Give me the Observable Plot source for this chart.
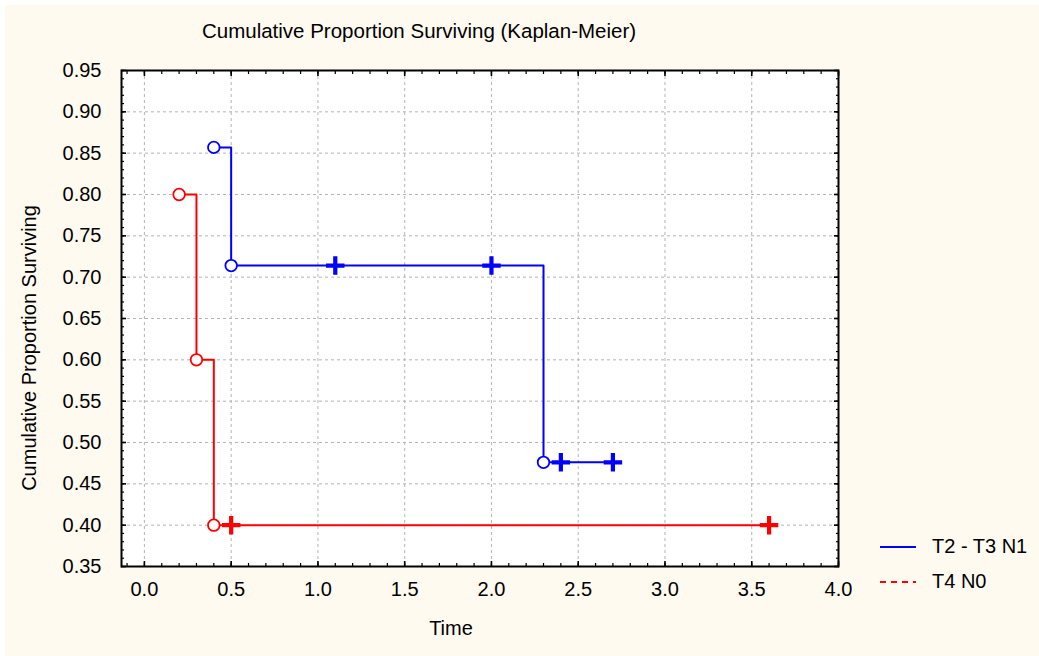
<!DOCTYPE html>
<html>
<head>
<meta charset="utf-8">
<script src="https://cdn.jsdelivr.net/npm/d3@7"></script>
<script src="https://cdn.jsdelivr.net/npm/@observablehq/plot@0.6"></script>
<style>
  html, body { margin: 0; padding: 0; background: #ffffff; }
  #page { position: relative; width: 1039px; height: 656px; overflow: hidden;
          font-family: "Liberation Sans", Arial, sans-serif; color: #000; }
  #paper { position: absolute; left: 5px; top: 5px; right: 0; bottom: 0; background: #fffaf0; }
  #chart { position: absolute; left: 0; top: 0; }
  .title { position: absolute; left: 0; top: 19px; width: 838px; text-align: center; font-size: 20.5px; line-height: 24px; }
  .ylabel { position: absolute; left: -171px; top: 336px; width: 400px; text-align: center; font-size: 20px;
            line-height: 24px; transform: rotate(-90deg); transform-origin: 50% 50%; }
  .xlabel { position: absolute; left: 351px; top: 616px; width: 200px; text-align: center; font-size: 20px; line-height: 24px; }
  .legend { position: absolute; left: 879px; top: 529px; font-size: 20px; }
  .legend .item { display: flex; align-items: center; height: 35px; }
  .legend svg { margin-right: 15px; }
</style>
</head>
<body>
<div id="page">
  <div id="paper"></div>
  <div id="chart"></div>
  <div class="title">Cumulative Proportion Surviving (Kaplan-Meier)</div>
  <div class="ylabel">Cumulative Proportion Surviving</div>
  <div class="xlabel">Time</div>
  <div class="legend" id="legend"></div>
</div>
<script>
// Kaplan-Meier estimates for the two groups
const groups = ["T2 - T3 N1", "T4 N0"];
const groupColors = ["#0000ff", "#ff0000"];

// T2 - T3 N1 (n = 7)
const timesA    = [0.4, 0.5, 1.1, 2.0, 2.3, 2.4, 2.7];
const survivalA = [0.857, 0.714, 0.714, 0.714, 0.476, 0.476, 0.476];
const censoredA = [false, false, true, true, false, true, true];

// T4 N0 (n = 5)
const timesB    = [0.2, 0.3, 0.4, 0.5, 3.6];
const survivalB = [0.8, 0.6, 0.4, 0.4, 0.4];
const censoredB = [false, false, false, true, true];

// Axis ticks
const xMajorTicks = [0.0, 0.5, 1.0, 1.5, 2.0, 2.5, 3.0, 3.5, 4.0];
const yMajorTicks = [0.35, 0.40, 0.45, 0.50, 0.55, 0.60, 0.65, 0.70, 0.75, 0.80, 0.85, 0.90, 0.95];
const xMinorTicks = d3.range(-1, 41).map(i => i / 10);
const yMinorTicks = d3.range(35, 96).map(i => i / 100);

const rows = [];
[[timesA, survivalA, censoredA], [timesB, survivalB, censoredB]].forEach(([t, s, c], g) => {
  t.forEach((time, i) => rows.push({group: groups[g], time, surv: s[i], censored: c[i]}));
});

const xDomain = [-0.132, 4];
const yDomain = [0.35, 0.95];
const inside = (v, [a, b]) => v > a + 1e-9 && v < b - 1e-9;

const colorScale = {domain: groups, range: groupColors};

const chart = Plot.plot({
  width: 1039,
  height: 656,
  marginLeft: 121,
  marginRight: 201,
  marginTop: 70,
  marginBottom: 90,
  style: {background: "transparent", fontFamily: "'Liberation Sans', Arial, sans-serif", fontSize: "20px", color: "#000"},
  x: {domain: xDomain, label: null},
  y: {domain: yDomain, label: null},
  color: colorScale,
  marks: [
    Plot.frame({fill: "#ffffff"}),
    Plot.gridX(xMajorTicks.filter(v => inside(v, xDomain)), {stroke: "#b4b4b4", strokeOpacity: 1, strokeDasharray: "3,3"}),
    Plot.gridY(yMajorTicks.filter(v => inside(v, yDomain)), {stroke: "#b4b4b4", strokeOpacity: 1, strokeDasharray: "3,3"}),
    Plot.line(rows, {x: "time", y: "surv", z: "group", stroke: "group", curve: "step-after", strokeWidth: 2}),
    Plot.dot(rows.filter(d => !d.censored), {x: "time", y: "surv", stroke: "group", fill: "#ffffff", r: 5.8, strokeWidth: 1.8}),
    Plot.dot(rows.filter(d => d.censored), {x: "time", y: "surv", stroke: "group", symbol: "plus", r: 6, strokeWidth: 4.2}),
    // tick labels
    Plot.axisX(xMajorTicks, {anchor: "bottom", tickSize: 0, tickPadding: 15, tickFormat: d3.format(".1f"), fontSize: 20}),
    Plot.axisY(yMajorTicks, {anchor: "left", tickSize: 0, tickPadding: 20, tickFormat: d3.format(".2f"), fontSize: 20}),
    // inward tick marks on all four sides
    ...["bottom", "top"].flatMap(anchor => [
      Plot.axisX(xMinorTicks.filter(v => v >= xDomain[0]), {anchor, tickSize: -3, tickFormat: () => "", strokeWidth: 1.2}),
      Plot.axisX(xMajorTicks, {anchor, tickSize: -5, tickFormat: () => "", strokeWidth: 1.6})
    ]),
    ...["left", "right"].flatMap(anchor => [
      Plot.axisY(yMinorTicks, {anchor, tickSize: -3, tickFormat: () => "", strokeWidth: 1.2}),
      Plot.axisY(yMajorTicks, {anchor, tickSize: -5, tickFormat: () => "", strokeWidth: 1.6})
    ]),
    Plot.frame({stroke: "#000000", strokeWidth: 2})
  ]
});
document.getElementById("chart").appendChild(chart);

// Legend: blue solid, red dashed
const legend = document.getElementById("legend");
groups.forEach((g, i) => {
  const item = document.createElement("div");
  item.className = "item";
  item.innerHTML =
    `<svg width="38" height="10"><line x1="1" y1="5" x2="37" y2="5" stroke="${groupColors[i]}" stroke-width="1.8"` +
    (i === 1 ? ` stroke-dasharray="6,5"` : ``) + `/></svg><span>${g}</span>`;
  legend.appendChild(item);
});
</script>
</body>
</html>
